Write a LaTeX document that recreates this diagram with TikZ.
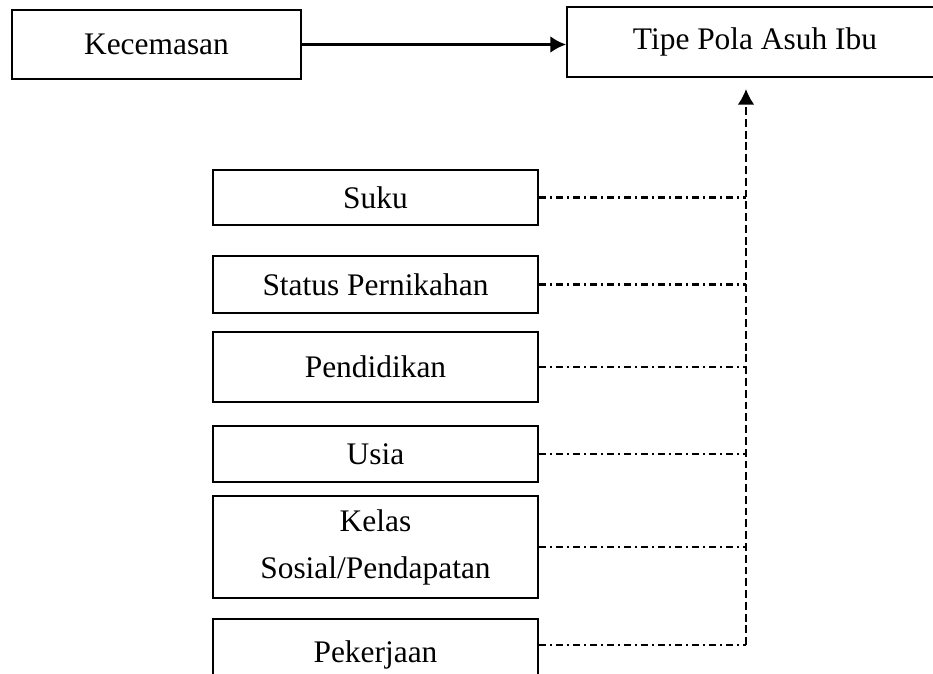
\documentclass[tikz,border=0pt]{standalone}
\usepackage{fontspec}
\setmainfont{Liberation Serif}
\usepackage{tikz}
\usetikzlibrary{arrows.meta,positioning,calc}
\tikzset{
  varbox/.style   = {draw,line width=0.8pt,inner sep=0pt,align=center,
                     font=\fontsize{12}{18}\selectfont},
  factor/.style   = {varbox,minimum width=124.2pt},
  mainarr/.style  = {-{Latex[length=6pt,width=6.4pt]},line width=0.9pt},
  dashdot/.style  = {line width=0.8pt,
                     dash pattern=on 2.7pt off 1.5pt on 0.8pt off 1.5pt},
  dashline/.style = {line width=0.7pt,dash pattern=on 3pt off 1.5pt,
                     -{Latex[length=6pt,width=6.4pt]}},
}

\begin{document}
\begin{tikzpicture}[x=0.382pt,y=-0.382pt]
  \useasboundingbox (0,0) rectangle (933,673);

  \node[varbox,minimum width=110.4pt,minimum height=26.4pt] (kec) at (156.5,44.5) {Kecemasan};
  \node[varbox,minimum width=143.6pt,minimum height=26.7pt] (tipe) at (755,42) {Tipe Pola Asuh Ibu};
  \draw[mainarr] (kec.east) -- (kec.east -| tipe.west);

  % faktor-faktor di sebelah kiri
  \node[factor,minimum height=21.0pt] (suku) at (375.5,197.5) {Suku};
  \node[factor,minimum height=21.8pt] (status) at (375.5,284.5) {Status Pernikahan};
  \node[factor,minimum height=26.7pt] (pend) at (375.5,367) {Pendidikan};
  \node[factor,minimum height=21.4pt] (usia) at (375.5,454) {Usia};
  \node[factor,minimum height=39.0pt] (kelas) at (375.5,547) {Kelas\\Sosial/Pendapatan};
  \node[factor,minimum height=27.5pt] (pek) at (375.5,655) {Pekerjaan};

  \coordinate (tip) at (746,89);
  \foreach \n in {suku,status,pend,usia,kelas}
     \draw[dashdot] (\n.east) -- (\n.east -| tip);
  \draw[dashdot] ([yshift=3.8pt]pek.east) -- ([yshift=3.8pt]pek.east -| tip);
  \draw[dashline] ([yshift=3.8pt]pek.east -| tip) -- (tip);
\end{tikzpicture}
\end{document}
